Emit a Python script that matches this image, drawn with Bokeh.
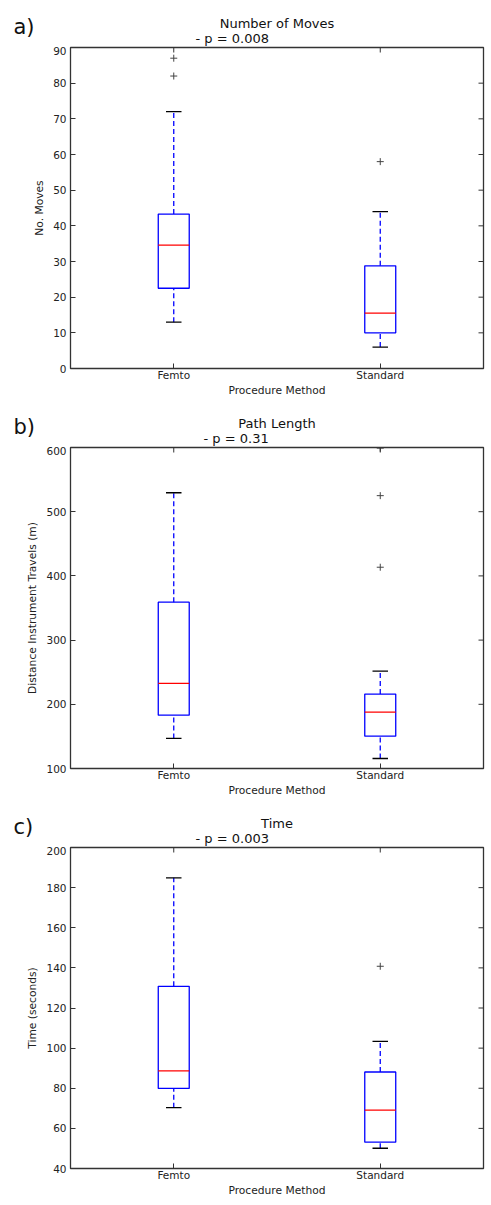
import math
from bokeh.plotting import figure
from bokeh.models import Label, FixedTicker, Range1d
from bokeh.layouts import column, row
from bokeh.embed import file_html
from bokeh.resources import INLINE

categories = ["Femto", "Standard"]
x_label = "Procedure Method"

# Panel a) Number of Moves
moves_low = [13, 6]
moves_q1 = [22.5, 10]
moves_med = [34.6, 15.5]
moves_q3 = [43.3, 28.8]
moves_high = [72, 44]
moves_out = [[82, 87], [58]]
moves_ticks = [0, 10, 20, 30, 40, 50, 60, 70, 80, 90]

# Panel b) Path Length
path_low = [146.8, 115.6]
path_q1 = [183, 150.4]
path_med = [232.5, 187.8]
path_q3 = [359, 216]
path_high = [529.5, 251.8]
path_out = [[], [413.5, 525, 599]]
path_ticks = [100, 200, 300, 400, 500, 600]

# Panel c) Time
time_low = [70.3, 50.1]
time_q1 = [79.9, 53.1]
time_med = [88.7, 69.1]
time_q3 = [130.8, 88.1]
time_high = [184.9, 103.4]
time_out = [[], [140.8]]
time_ticks = [40, 60, 80, 100, 120, 140, 160, 180, 200]

FONT = "DejaVu Sans"
W = 491
FW, FH = 413, 321
LEFT, RIGHT = 70, 8
HEAD = 46
TXT = "#111111"


def header(tag, title, ptext, ptext_x):
    h = figure(frame_width=W, frame_height=HEAD, output_backend="svg", toolbar_location=None,
               x_range=Range1d(0, W), y_range=Range1d(0, HEAD),
               min_border=0, min_border_left=0, min_border_right=0,
               min_border_top=0, min_border_bottom=0)
    h.axis.visible = False
    h.grid.visible = False
    h.outline_line_color = None
    h.add_layout(Label(x=13, y=HEAD - 26, text=tag, text_font=FONT, text_font_size="21px",
                       text_baseline="middle", text_align="left", text_color=TXT))
    h.add_layout(Label(x=LEFT + FW / 2, y=HEAD - 23, text=title, text_font=FONT,
                       text_font_size="13px", text_baseline="middle", text_align="center",
                       text_color=TXT))
    h.add_layout(Label(x=ptext_x, y=HEAD - 38, text=ptext, text_font=FONT,
                       text_font_size="13px", text_baseline="middle", text_align="left",
                       text_color=TXT))
    return row(h)


def panel(ylabel, low, q1, med, q3, high, outs, ticks, bottom):
    xs = list(range(1, len(categories) + 1))
    xmax = len(categories) + 0.5
    p = figure(frame_width=FW, frame_height=FH,
               output_backend="svg", toolbar_location=None,
               x_range=Range1d(0.5, xmax),
               y_range=Range1d(ticks[0], ticks[-1]),
               min_border_left=LEFT, min_border_right=RIGHT, min_border_top=1,
               min_border_bottom=bottom)
    p.grid.visible = False
    p.outline_line_color = "#333333"
    p.outline_line_width = 1.3
    p.background_fill_color = "white"
    p.border_fill_color = "white"

    bw = 0.15
    cw = 0.075
    # whiskers
    p.segment(x0=xs, y0=q3, x1=xs, y1=high, line_color="blue", line_dash="5 3", line_width=1.3)
    p.segment(x0=xs, y0=low, x1=xs, y1=q1, line_color="blue", line_dash="5 3", line_width=1.3)
    # caps
    p.segment(x0=[x - cw / 2 for x in xs], y0=high, x1=[x + cw / 2 for x in xs], y1=high,
              line_color="black", line_width=1.3)
    p.segment(x0=[x - cw / 2 for x in xs], y0=low, x1=[x + cw / 2 for x in xs], y1=low,
              line_color="black", line_width=1.3)
    # boxes
    p.vbar(x=xs, bottom=q1, top=q3, width=bw, fill_color=None, line_color="blue", line_width=1.3)
    # medians
    p.segment(x0=[x - bw / 2 for x in xs], y0=med, x1=[x + bw / 2 for x in xs], y1=med,
              line_color="red", line_width=1.3)
    # fliers
    fx, fy = [], []
    for x, o in zip(xs, outs):
        for v in o:
            fx.append(x)
            fy.append(v)
    if fx:
        p.scatter(fx, fy, marker="cross", size=7, line_color="#444444", line_width=1)

    # mirrored inward ticks on right and top edges (clipped half-dashes)
    p.scatter([xmax] * len(ticks), ticks, marker="dash", size=10,
              line_color="#333333", line_width=1)
    p.scatter(xs, [ticks[-1]] * len(xs), marker="dash", angle=math.pi / 2, size=10,
              line_color="#333333", line_width=1)

    p.xaxis.ticker = FixedTicker(ticks=xs)
    p.xaxis.major_label_overrides = {x: c for x, c in zip(xs, categories)}
    p.yaxis.ticker = FixedTicker(ticks=ticks)
    for ax in (p.xaxis[0], p.yaxis[0]):
        ax.axis_line_color = None
        ax.major_tick_in = 5
        ax.major_tick_out = 0
        ax.minor_tick_line_color = None
        ax.major_tick_line_color = "#333333"
        ax.major_label_text_font = FONT
        ax.major_label_text_font_size = "10.5px"
        ax.major_label_text_color = "#222222"
        ax.axis_label_text_font = FONT
        ax.axis_label_text_font_size = "10.7px"
        ax.axis_label_text_font_style = "normal"
        ax.axis_label_text_color = "#222222"
    p.xaxis.major_label_standoff = 0
    p.xaxis.axis_label_standoff = 0
    p.yaxis.major_label_standoff = 4
    p.yaxis.axis_label_standoff = 4
    p.xaxis.axis_label = x_label
    p.yaxis.axis_label = ylabel
    return p


ha = header("a)", "Number of Moves", "- p = 0.008", 195)
pa = panel("No. Moves", moves_low, moves_q1, moves_med, moves_q3, moves_high, moves_out,
           moves_ticks, 32)
hb = header("b)", "Path Length", "- p = 0.31", 203)
pb = panel("Distance Instrument Travels (m)", path_low, path_q1, path_med, path_q3, path_high,
           path_out, path_ticks, 32)
hc = header("c)", "Time", "- p = 0.003", 195)
pc = panel("Time (seconds)", time_low, time_q1, time_med, time_q3, time_high, time_out,
           time_ticks, 37)

layout = column(ha, pa, hb, pb, hc, pc, spacing=0)
open("out.html", "w").write(file_html(layout, INLINE))
